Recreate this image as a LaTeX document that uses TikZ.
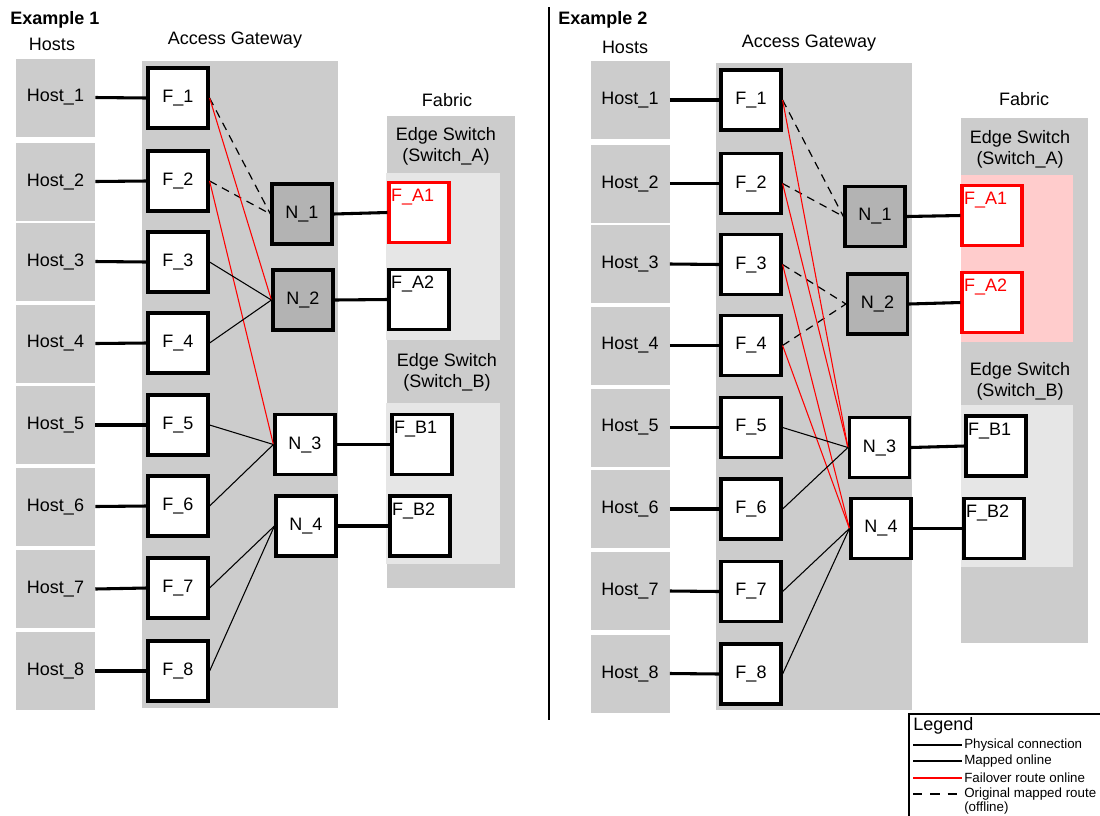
\documentclass[tikz,border=0pt]{standalone}
\usepackage{fontspec}
\setmainfont{Liberation Sans}
\definecolor{boxgray}{HTML}{CCCCCC}
\definecolor{inngray}{HTML}{E6E6E6}
\definecolor{ngray}{HTML}{B3B3B3}
\definecolor{pinkbg}{HTML}{FFCCCC}
\definecolor{myred}{HTML}{FF0000}
\begin{document}
\begin{tikzpicture}[x=0.75pt,y=-0.75pt,
  txt/.style={font=\fontsize{13.5}{15.75}\selectfont, inner sep=0pt},
  smalltxt/.style={font=\fontsize{10}{10.5}\selectfont, inner sep=0pt},
  host/.style={txt, fill=boxgray, minimum width=59.25pt, minimum height=58.5pt},
  fbox/.style={txt, draw=black, fill=white, line width=2.4pt, minimum width=45pt, minimum height=45pt},
  nbox/.style={fbox, fill=ngray},
  port/.style={draw=black, fill=white, line width=2.4pt, minimum width=45pt, minimum height=45pt, inner sep=0pt,
    label={[txt, anchor=north west, xshift=2.5pt, yshift=-6pt]north west:#1}},
  redport/.style={draw=myred, fill=white, line width=2.4pt, minimum width=45pt, minimum height=45pt, inner sep=0pt,
    label={[txt, text=myred, anchor=north west, xshift=2.5pt, yshift=-6pt]north west:#1}},
  phys/.style={line width=2.3pt},
  mapped/.style={line width=0.8pt},
  fail/.style={line width=0.8pt, draw=myred},
  orig/.style={line width=0.9pt, dash pattern=on 6pt off 4.5pt},
]
\useasboundingbox (0,0) rectangle (1100,815);

% ================= Example 1 =================
\node[txt, font=\fontsize{13.5}{15.75}\selectfont\bfseries, anchor=west] (ex1) at (10,20) {Example 1};
\node[txt] (hosts1) at (52,44) {Hosts};
\node[txt] (ag1) at (235,40) {Access Gateway};
\node[txt] (fab1) at (447,100) {Fabric};

\fill[boxgray] (142,61) rectangle (338,708);
\fill[boxgray] (387,116) rectangle (515,588);
\fill[inngray] (386,173) rectangle (500,340);
\fill[inngray] (386,403) rectangle (500,564);
\node[txt, align=center] (esA1) at (446,146) {Edge Switch\\(Switch\_A)};
\node[txt, align=center] (esB1) at (447,372) {Edge Switch\\(Switch\_B)};

\foreach \i/\y in {1/97.5,2/181.5,3/261.5,4/343.5,5/425,6/506.5,7/589,8/671}
  \node[host] (Ah\i) at (55.5,\y) {Host\_\i};
\foreach \i/\y in {1/98,2/181,3/262,4/343,5/425,6/506,7/588,8/671}
  \node[fbox] (Af\i) at (178,\y) {F\_\i};

\node[nbox] (An1) at (302,214) {N\_1};
\node[nbox] (An2) at (303,300) {N\_2};
\node[fbox] (An3) at (305,444.5) {N\_3};
\node[fbox] (An4) at (306,526) {N\_4};

\node[redport=F\_A1] (Afa1) at (419,212.5) {};
\node[port=F\_A2] (Afa2) at (419,299.5) {};
\node[port=F\_B1] (Afb1) at (422,444.5) {};
\node[port=F\_B2] (Afb2) at (420,526) {};

\foreach \i in {1,...,8} \draw[phys] (Ah\i.east) -- (Af\i.west);
\draw[phys] (An1.east) -- (Afa1.west);
\draw[phys] (An2.east) -- (Afa2.west);
\draw[phys] (An3.east) -- (Afb1.west);
\draw[phys] (An4.east) -- (Afb2.west);

\draw[orig] (Af1.east) -- (An1.west);
\draw[orig] (Af2.east) -- (An1.west);
\draw[fail] (Af1.east) -- (An2.west);
\draw[fail] (Af2.east) -- (An3.west);
\draw[mapped] (Af3.east) -- (An2.west);
\draw[mapped] (Af4.east) -- (An2.west);
\draw[mapped] (Af5.east) -- (An3.west);
\draw[mapped] (Af6.east) -- (An3.west);
\draw[mapped] (Af7.east) -- (An4.west);
\draw[mapped] (Af8.east) -- (An4.west);

% separator
\draw[line width=1.5pt] (549,7) -- (549,720);

% ================= Example 2 =================
\node[txt, font=\fontsize{13.5}{15.75}\selectfont\bfseries, anchor=west] (ex2) at (558,20) {Example 2};
\node[txt] (hosts2) at (625,47) {Hosts};
\node[txt] (ag2) at (809,43) {Access Gateway};
\node[txt] (fab2) at (1024,99) {Fabric};

\fill[boxgray] (716,63) rectangle (912,710);
\fill[boxgray] (961,118) rectangle (1088,643);
\fill[pinkbg] (961,175) rectangle (1073,342);
\fill[inngray] (961,405) rectangle (1073,567);
\node[txt, align=center] (esA2) at (1020,149) {Edge Switch\\(Switch\_A)};
\node[txt, align=center] (esB2) at (1020,381) {Edge Switch\\(Switch\_B)};

\foreach \i/\y in {1/100,2/183.5,3/264,4/345.5,5/427.5,6/509,7/591,8/673.5}
  \node[host] (Bh\i) at (630,\y) {Host\_\i};
\foreach \i/\y in {1/100,2/183.5,3/264.5,4/345.5,5/427.5,6/509,7/591.5,8/674}
  \node[fbox] (Bf\i) at (751,\y) {F\_\i};

\node[nbox] (Bn1) at (875,216.5) {N\_1};
\node[nbox] (Bn2) at (877.5,304) {N\_2};
\node[fbox] (Bn3) at (879.5,447.5) {N\_3};
\node[fbox] (Bn4) at (881,528.5) {N\_4};

\node[redport=F\_A1] (Bfa1) at (992,215.5) {};
\node[redport=F\_A2] (Bfa2) at (992,302.5) {};
\node[port=F\_B1] (Bfb1) at (996,446) {};
\node[port=F\_B2] (Bfb2) at (994,528.5) {};

\foreach \i in {1,...,8} \draw[phys] (Bh\i.east) -- (Bf\i.west);
\draw[phys] (Bn1.east) -- (Bfa1.west);
\draw[phys] (Bn2.east) -- (Bfa2.west);
\draw[phys] (Bn3.east) -- (Bfb1.west);
\draw[phys] (Bn4.east) -- (Bfb2.west);

\draw[orig] (Bf1.east) -- (Bn1.west);
\draw[orig] (Bf2.east) -- (Bn1.west);
\draw[orig] (Bf3.east) -- (Bn2.west);
\draw[orig] (Bf4.east) -- (Bn2.west);
\draw[fail] (Bf1.east) -- (Bn3.west);
\draw[fail] (Bf2.east) -- (Bn3.west);
\draw[fail] (Bf3.east) -- (Bn4.west);
\draw[fail] (Bf4.east) -- (Bn4.west);
\draw[mapped] (Bf5.east) -- (Bn3.west);
\draw[mapped] (Bf6.east) -- (Bn3.west);
\draw[mapped] (Bf7.east) -- (Bn4.west);
\draw[mapped] (Bf8.east) -- (Bn4.west);

% ================= Legend =================
\draw[line width=1.5pt] (1105,714) -- (909,714) -- (909,820);
\node[txt, anchor=west] (legend) at (913,726) {Legend};
\coordinate (l1a) at (913,745); \coordinate (l1b) at (962,745);
\coordinate (l2a) at (913,761); \coordinate (l2b) at (962,761);
\coordinate (l3a) at (913,778); \coordinate (l3b) at (962,778);
\coordinate (l4a) at (913,794); \coordinate (l4b) at (962,794);
\draw[line width=2.2pt] (l1a) -- (l1b);
\draw[line width=1.3pt] (l2a) -- (l2b);
\draw[line width=1.3pt, myred] (l3a) -- (l3b);
\draw[line width=1.3pt, dash pattern=on 7pt off 6pt] (l4a) -- (l4b);
\node[smalltxt, anchor=west] (lt1) at (964,745) {Physical connection};
\node[smalltxt, anchor=west] (lt2) at (964,761) {Mapped online};
\node[smalltxt, anchor=west] (lt3) at (964,778) {Failover route online};
\node[smalltxt, anchor=north west, align=left] (lt4) at (964,787.5) {Original mapped route\\(offline)};
\end{tikzpicture}
\end{document}
